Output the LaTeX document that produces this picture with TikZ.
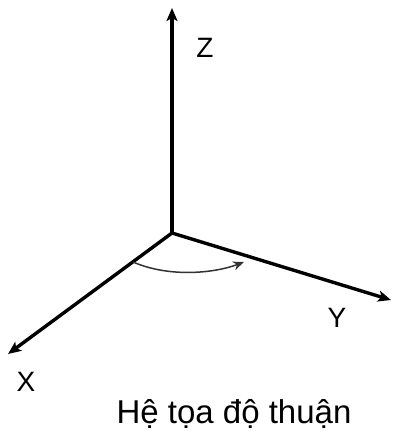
\documentclass[tikz,border=0pt]{standalone}
\usepackage{fontspec}
\setmainfont{Liberation Sans}
\usetikzlibrary{arrows.meta}
\begin{document}
\begin{tikzpicture}[x=1pt,y=-1pt,
  axis/.style={line width=3.4pt,-{Stealth[length=13pt,width=11pt,inset=3pt]}},
  turn/.style={line width=1.5pt,draw=black!80,-{Stealth[length=11pt,width=9pt]}},
  lbl/.style={font=\fontsize{28}{28}\selectfont,inner sep=0pt}]
\useasboundingbox (0,0) rectangle (393,432);
\coordinate (O) at (172,233);
\coordinate (Zt) at (172,8);
\coordinate (Yt) at (391,300);
\coordinate (Xt) at (8,354);
\coordinate (A) at (133,262);
\coordinate (B) at (244,262);
\draw[axis] (O) -- (Zt);
\draw[axis] (O) -- (Yt);
\draw[axis] (O) -- (Xt);
\draw[turn] (A) .. controls (170,278) and (215,273) .. (B);
\node[lbl] (z) at (205,48) {Z};
\node[lbl] (y) at (337,318) {Y};
\node[lbl] (x) at (26,382) {X};
\node[font=\fontsize{33}{33}\selectfont,inner sep=0pt,anchor=base] (cap) at (234,423) {Hệ tọa độ thuận};
\end{tikzpicture}
\end{document}
